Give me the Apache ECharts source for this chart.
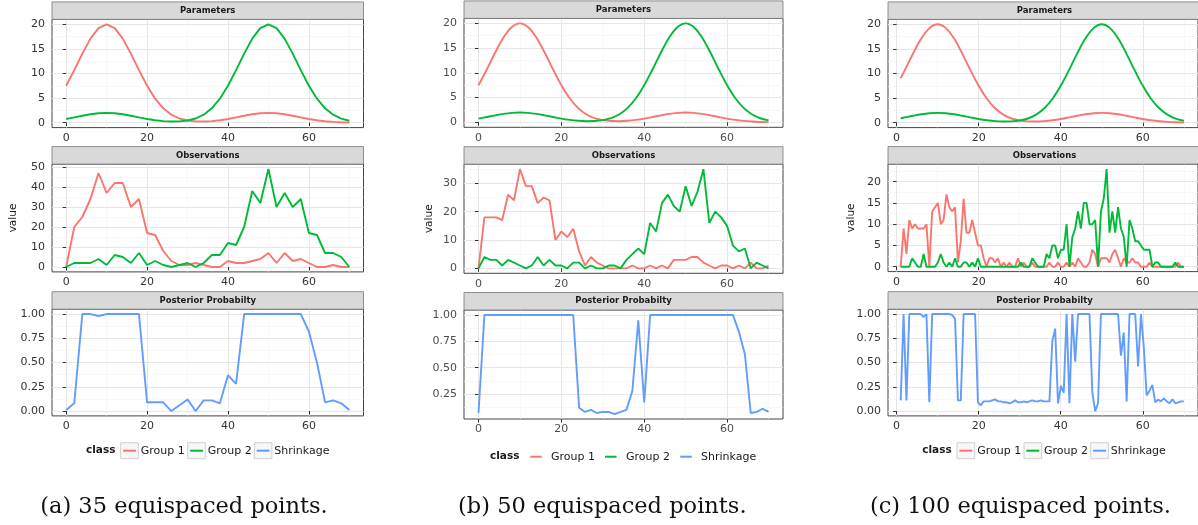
<!DOCTYPE html>
<html><head><meta charset="utf-8">
<script src="https://cdn.jsdelivr.net/npm/echarts/dist/echarts.min.js"></script>
<style>html,body{margin:0;padding:0;background:#fff}#c{width:1198px;height:525px}</style>
</head><body><div id="c"></div><script>
// ---------- DATA ----------
const seriesNames = ['Group 1', 'Group 2', 'Shrinkage'];
const stripTitles = ['Parameters', 'Observations', 'Posterior Probabilty'];
const captions = ['(a) 35 equispaced points.', '(b) 50 equispaced points.', '(c) 100 equispaced points.'];

const xTicks = [0, 20, 40, 60];
const xMinor = [10, 30, 50, 70];
const yTicksParam = [0, 5, 10, 15, 20];
const yMinorParam = [2.5, 7.5, 12.5, 17.5];
const yTicksObsA = [0, 10, 20, 30, 40, 50];
const yMinorObsA = [5, 15, 25, 35, 45];
const yTicksObsB = [0, 10, 20, 30];
const yMinorObsB = [5, 15, 25, 35];
const yTicksObsC = [0, 5, 10, 15, 20];
const yMinorObsC = [2.5, 7.5, 12.5, 17.5, 22.5];
const yTicksPost = [0, 0.25, 0.5, 0.75, 1];
const yTicksPostB = [0.25, 0.5, 0.75, 1];
const yMinorPost = [0.125, 0.375, 0.625, 0.875];

// (a) 35 equispaced points
const xA = [0,2,4,6,8,10,12,14,16,18,20,22,24,26,28,30,32,34,36,38,40,42,44,46,48,50,52,54,56,58,60,62,64,66,68,70];
const paramG1A = [7.50,10.68,14.05,17.10,19.23,20.00,19.23,17.10,14.05,10.68,7.50,4.87,2.93,1.63,0.85,0.44,0.26,0.23,0.32,0.50,0.75,1.07,1.41,1.71,1.92,2.00,1.92,1.71,1.41,1.07,0.75,0.49,0.29,0.16,0.08,0.04];
const paramG2A = [0.75,1.07,1.41,1.71,1.92,2.00,1.92,1.71,1.41,1.07,0.75,0.50,0.32,0.23,0.26,0.44,0.85,1.63,2.93,4.87,7.50,10.68,14.05,17.10,19.23,20.00,19.23,17.10,14.05,10.68,7.50,4.87,2.93,1.63,0.83,0.40];
const obsG1A = [0,20,25,34,47,37,42,42,30,34,17,16,8,3,1,1,2,1,0,0,3,2,2,3,4,7,2,7,3,4,2,0,0,1,0,0];
const obsG2A = [0,2,2,2,4,1,6,5,2,7,1,3,1,0,1,2,0,2,6,6,12,11,20,38,32,49,30,37,30,34,17,16,7,7,5,0];
const postA = [0.01,0.08,1.00,1.00,0.98,1.00,1.00,1.00,1.00,1.00,0.09,0.09,0.09,0.00,0.06,0.12,0.00,0.11,0.11,0.08,0.37,0.28,1.00,1.00,1.00,1.00,1.00,1.00,1.00,1.00,0.82,0.50,0.09,0.11,0.08,0.01];

// (b) 50 equispaced points
const xB = [0,1.43,2.86,4.29,5.71,7.14,8.57,10,11.43,12.86,14.29,15.71,17.14,18.57,20,21.43,22.86,24.29,25.71,27.14,28.57,30,31.43,32.86,34.29,35.71,37.14,38.57,40,41.43,42.86,44.29,45.71,47.14,48.57,50,51.43,52.86,54.29,55.71,57.14,58.57,60,61.43,62.86,64.29,65.71,67.14,68.57,70];
const obsG1B = [0,18,18,18,17,26,24,35,29,29, 23,25,24,10,13,11,14,6,1,4, 2,1,0,0,0,0,1,0,0,1, 0,1,0,3,3,3,4,4,2,1, 0,1,1,0,1,0,2,0,0,1];
const obsG2B = [0,4,3,3,1,3,2,1,0,1, 4,1,3,1,1,0,2,2,0,1, 0,0,1,1,0,3,5,7,5,16, 13,23,26,22,20,29,22,27,35,16, 20,18,15,8,6,7,0,2,1,0];
const postB = [0.07,1,1,1,1,1,1,1,1,1, 1,1,1,1,1,1,1,0.12,0.08,0.10, 0.07,0.08,0.08,0.06,0.08,0.10,0.28,0.95,0.17,1, 1,1,1,1,1,1,1,1,1,1, 1,1,1,1,0.84,0.63,0.07,0.08,0.11,0.08];

// (c) 100 equispaced points
const xC = [1.00,1.70,2.39,3.09,3.79,4.48,5.18,5.88,6.58,7.27,7.97,8.67,9.36,10.06,10.76,11.45,12.15,12.85,13.55,14.24,14.94,15.64,16.33,17.03,17.73,18.42,19.12,19.82,20.52,21.21,21.91,22.61,23.30,24.00,24.70,25.39,26.09,26.79,27.48,28.18,28.88,29.58,30.27,30.97,31.67,32.36,33.06,33.76,34.45,35.15,35.85,36.55,37.24,37.94,38.64,39.33,40.03,40.73,41.42,42.12,42.82,43.52,44.21,44.91,45.61,46.30,47.00,47.70,48.39,49.09,49.79,50.48,51.18,51.88,52.58,53.27,53.97,54.67,55.36,56.06,56.76,57.45,58.15,58.85,59.55,60.24,60.94,61.64,62.33,63.03,63.73,64.42,65.12,65.82,66.52,67.21,67.91,68.61,69.30,70.00];
const paramXC = [1,2,4,6,8,10,12,14,16,18,20,22,24,26,28,30,32,34,36,38,40,42,44,46,48,50,52,54,56,58,60,62,64,66,68,70];
const paramG1C = [9.04,10.68,14.05,17.10,19.23,20.00,19.23,17.10,14.05,10.68,7.50,4.87,2.93,1.63,0.85,0.44,0.26,0.23,0.32,0.50,0.75,1.07,1.41,1.71,1.92,2.00,1.92,1.71,1.41,1.07,0.75,0.49,0.29,0.16,0.08,0.04];
const paramG2C = [0.90,1.07,1.41,1.71,1.92,2.00,1.92,1.71,1.41,1.07,0.75,0.50,0.32,0.23,0.26,0.44,0.85,1.63,2.93,4.87,7.50,10.68,14.05,17.10,19.23,20.00,19.23,17.10,14.05,10.68,7.50,4.87,2.93,1.63,0.83,0.40];
const obsG1C = [0,9,3,11,9,10,9,9,9,10, 0,13,14,15,10,11,17,14,13,14, 1,6,16,8,8,11,8,5,5,2, 0,2,2,1,2,0,1,0,1,0, 0,2,0,1,0,0,1,0,0,0, 0,0,1,0,0,1,0,0,1,0, 1,0,2,1,0,0,1,4,3,0, 2,2,2,1,3,4,2,0,2,1, 1,2,1,1,0,0,0,1,0,0, 0,0,0,0,0,0,0,1,0,0];
const obsG2C = [0,0,0,0,2,1,0,0,3,0, 0,0,0,1,3,1,0,1,0,2, 0,0,1,1,0,1,0,2,0,0, 0,0,0,0,0,0,0,0,0,0, 0,0,1,0,0,0,2,1,0,0, 0,3,2,5,5,2,4,4,10,0, 7,9,13,9,15,15,10,10,11,0, 13,16,23,8,13,8,14,9,7,0, 11,9,6,6,5,4,4,4,0,1, 1,0,0,0,0,0,1,0,0,0];
const postC = [0.11,1,0.11,1,1,1,1,1,0.97,1, 0.09,1,1,1,1,1,1,1,0.99,0.95, 0.11,0.11,1,1,1,1,1,0.09,0.06,0.10, 0.10,0.10,0.11,0.12,0.10,0.10,0.09,0.09,0.08,0.09, 0.11,0.09,0.09,0.10,0.09,0.10,0.11,0.10,0.10,0.11, 0.10,0.10,0.10,0.72,0.85,0.08,0.26,0.19,1,0.08, 1,0.51,1,1,1,1,1,0.19,0,0.08, 1,1,1,1,1,1,1,0.57,0.81,0.10, 1,1,1,0.46,1,0.66,0.16,0.21,0.27,0.09, 0.12,0.10,0.13,0.10,0.08,0.12,0.08,0.09,0.10,0.10];

// ---------- STYLE / LAYOUT ----------
const COLORS = ['#F8766D', '#00BA38', '#619CFF'];
const FONT = 'DejaVu Sans';
const STRIP_H = 17.5;

const columns = [
  { left: 52, width: 311.5, xmin: -3.5, xmax: 73.5, labelColor: '#333', nameGap: 33,
    rows: [
      { top: 19.4, height: 108.2, ymin: -1, ymax: 21, ticks: yTicksParam, minor: yMinorParam,
        lines: [[xA, paramG1A, 0], [xA, paramG2A, 1]], smooth: false },
      { top: 164.1, height: 107.8, ymin: -2.45, ymax: 51.45, ticks: yTicksObsA, minor: yMinorObsA,
        lines: [[xA, obsG1A, 0], [xA, obsG2A, 1]] },
      { top: 309.2, height: 106.7, ymin: -0.05, ymax: 1.05, ticks: yTicksPost, minor: yMinorPost, fixed2: true,
        lines: [[xA, postA, 2]] }
    ] },
  { left: 464, width: 319, xmin: -3.5, xmax: 73.5, labelColor: '#4d4d4d', nameGap: 29,
    rows: [
      { top: 18.4, height: 108.9, ymin: -1, ymax: 21, ticks: yTicksParam, minor: yMinorParam,
        lines: [[xA, paramG1A, 0], [xA, paramG2A, 1]], smooth: 0.35 },
      { top: 164.2, height: 109.1, ymin: -1.75, ymax: 36.75, ticks: yTicksObsB, minor: yMinorObsB,
        lines: [[xB, obsG1B, 0], [xB, obsG2B, 1]] },
      { top: 310, height: 109, ymin: 0.013, ymax: 1.047, ticks: yTicksPostB, minor: yMinorPost, fixed2: true,
        lines: [[xB, postB, 2]] }
    ] },
  { left: 888, width: 313, xmin: -2.1, xmax: 73.45, labelColor: '#333', nameGap: 31,
    rows: [
      { top: 19.4, height: 108.2, ymin: -1, ymax: 21, ticks: yTicksParam, minor: yMinorParam,
        lines: [[paramXC, paramG1C, 0], [paramXC, paramG2C, 1]], smooth: 0.35 },
      { top: 164.1, height: 107.5, ymin: -1.15, ymax: 24.15, ticks: yTicksObsC, minor: yMinorObsC,
        lines: [[xC, obsG1C, 0], [xC, obsG2C, 1]] },
      { top: 309.2, height: 106.7, ymin: -0.05, ymax: 1.05, ticks: yTicksPost, minor: yMinorPost, fixed2: true,
        lines: [[xC, postC, 2]] }
    ] }
];

const legends = [
  { classX: 86, y: 450.7, boxes: true, keyX: [120.7, 187.7, 254.3], keyW: 17.6, textX: [140.7, 207.7, 274.3] },
  { classX: 490, y: 456.7, boxes: false, keyX: [527.8, 602.6, 677.8], keyW: 16.4, textX: [551, 626, 701] },
  { classX: 922.3, y: 450.7, boxes: true, keyX: [957, 1024, 1090.7], keyW: 17.7, textX: [977.3, 1044, 1110.7] }
];
const captionX = [184, 602.3, 1020.5];
const captionY = 507;

// ---------- BUILD ----------
const grids = [], xAxes = [], yAxes = [], series = [], graphics = [];
let gi = 0;
columns.forEach((c, ci) => {
  c.rows.forEach((r, ri) => {
    grids.push({ left: c.left, top: r.top, width: c.width, height: r.height, show: true,
      backgroundColor: '#fff', borderColor: '#444', borderWidth: 1, containLabel: false });
    const xi = xAxes.length;
    xAxes.push({ type: 'value', gridIndex: gi, min: c.xmin, max: c.xmax, z: 1,
      axisLine: { show: false },
      axisTick: { show: true, length: 3.5, customValues: xTicks, lineStyle: { color: '#333', width: 1 } },
      axisLabel: { customValues: xTicks, fontSize: 11, fontFamily: FONT, color: c.labelColor, margin: 5 },
      splitLine: { show: true, lineStyle: { color: '#e6e6e6', width: 1 } } });
    xAxes.push({ type: 'value', gridIndex: gi, min: c.xmin, max: c.xmax, z: 0, position: 'bottom',
      axisLine: { show: false }, axisTick: { show: false, customValues: xMinor },
      axisLabel: { show: false, customValues: xMinor },
      splitLine: { show: true, lineStyle: { color: '#f3f3f3', width: 0.6 } } });
    const yi = yAxes.length;
    const yMain = { type: 'value', gridIndex: gi, min: r.ymin, max: r.ymax, z: 1,
      axisLine: { show: false },
      axisTick: { show: true, length: 3.5, customValues: r.ticks, lineStyle: { color: '#333', width: 1 } },
      axisLabel: { customValues: r.ticks, fontSize: 11, fontFamily: FONT, color: c.labelColor, margin: 7,
        formatter: r.fixed2 ? (v => Number(v).toFixed(2)) : (v => String(v)) },
      splitLine: { show: true, lineStyle: { color: '#e6e6e6', width: 1 } } };
    if (ri === 1) {
      yMain.name = 'value'; yMain.nameLocation = 'middle'; yMain.nameGap = c.nameGap;
      yMain.nameTextStyle = { fontSize: 10.5, fontFamily: FONT, color: '#1a1a1a' };
    }
    yAxes.push(yMain);
    yAxes.push({ type: 'value', gridIndex: gi, min: r.ymin, max: r.ymax, z: 0, position: 'left',
      axisLine: { show: false }, axisTick: { show: false, customValues: r.minor },
      axisLabel: { show: false, customValues: r.minor },
      splitLine: { show: true, lineStyle: { color: '#f3f3f3', width: 0.6 } } });
    r.lines.forEach(([xs, ys, k]) => {
      series.push({ type: 'line', name: seriesNames[k], xAxisIndex: xi, yAxisIndex: yi,
        data: xs.map((x, i) => [x, ys[i]]), showSymbol: false, symbol: 'none',
        smooth: r.smooth || false, lineStyle: { color: COLORS[k], width: 1.9 },
        itemStyle: { color: COLORS[k] }, z: 3 });
    });
    // facet strip
    graphics.push({ type: 'rect', z: 10, shape: { x: c.left, y: r.top - STRIP_H, width: c.width, height: STRIP_H },
      style: { fill: '#d9d9d9', stroke: '#777', lineWidth: 0.8 } });
    graphics.push({ type: 'text', z: 11, x: c.left + c.width / 2, y: r.top - STRIP_H / 2,
      style: { text: stripTitles[ri], font: 'bold 8.5px "DejaVu Sans"', fill: '#1a1a1a',
        align: 'center', verticalAlign: 'middle', textAlign: 'center', textVerticalAlign: 'middle' } });
    gi++;
  });
  // legend
  const L = legends[ci];
  graphics.push({ type: 'text', z: 11, x: L.classX, y: L.y,
    style: { text: 'class', font: 'bold 10.5px "DejaVu Sans"', fill: '#1a1a1a',
      align: 'left', verticalAlign: 'middle', textAlign: 'left', textVerticalAlign: 'middle' } });
  seriesNames.forEach((nm, k) => {
    if (L.boxes) {
      graphics.push({ type: 'rect', z: 10, shape: { x: L.keyX[k], y: L.y - 8, width: L.keyW, height: 16 },
        style: { fill: '#f7f7f7', stroke: '#d0d0d0', lineWidth: 1 } });
    }
    graphics.push({ type: 'line', z: 11, shape: { x1: L.keyX[k] + 2.4, y1: L.y, x2: L.keyX[k] + L.keyW - 2.4, y2: L.y },
      style: { stroke: COLORS[k], lineWidth: 2 } });
    graphics.push({ type: 'text', z: 11, x: L.textX[k], y: L.y,
      style: { text: nm, font: '11px "DejaVu Sans"', fill: '#1a1a1a',
        align: 'left', verticalAlign: 'middle', textAlign: 'left', textVerticalAlign: 'middle' } });
  });
  // caption
  graphics.push({ type: 'text', z: 11, x: captionX[ci], y: captionY,
    style: { text: captions[ci], font: '22.5px "DejaVu Serif"', fill: '#111',
      align: 'center', verticalAlign: 'middle', textAlign: 'center', textVerticalAlign: 'middle' } });
});

const chart = echarts.init(document.getElementById('c'), null, { renderer: 'canvas' });
chart.setOption({
  animation: false,
  backgroundColor: '#fff',
  grid: grids,
  xAxis: xAxes,
  yAxis: yAxes,
  series: series,
  graphic: { elements: graphics }
});
</script></body></html>
